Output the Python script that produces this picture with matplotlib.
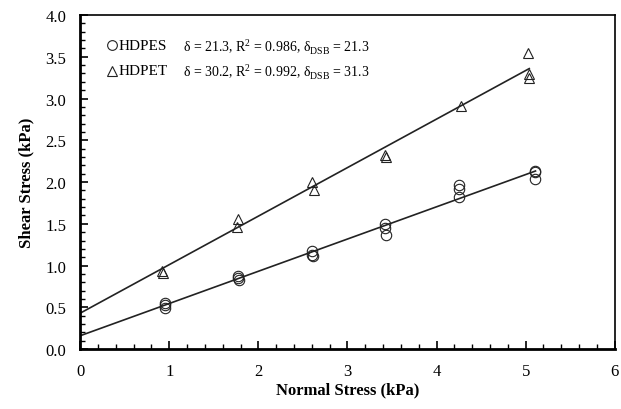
import numpy as np
import matplotlib.pyplot as plt
from matplotlib.ticker import MultipleLocator

plt.rcParams['font.family'] = 'Liberation Serif'
plt.rcParams['mathtext.fontset'] = 'custom'
plt.rcParams['mathtext.rm'] = 'Liberation Serif'

# HDPES (circles)
es_x = [0.95, 0.95, 0.95, 1.77, 1.77, 1.78, 2.60, 2.60, 2.61, 3.42, 3.42, 3.43, 4.25, 4.25, 4.25, 5.10, 5.10, 5.11]
es_y = [0.55, 0.53, 0.49, 0.88, 0.85, 0.83, 1.18, 1.13, 1.12, 1.50, 1.45, 1.37, 1.97, 1.92, 1.82, 2.13, 2.12, 2.04]
# HDPET (triangles)
et_x = [0.92, 0.93, 1.77, 1.76, 2.60, 2.62, 3.42, 3.43, 4.27, 5.03, 5.04, 5.04]
et_y = [0.93, 0.91, 1.56, 1.46, 2.00, 1.91, 2.32, 2.30, 2.91, 3.54, 3.29, 3.25]

# fitted lines (intercept, slope)
es_fit = (0.16, 0.386)
et_fit = (0.43, 0.581)

fig = plt.figure(figsize=(6.21, 4.10), dpi=100)
ax = fig.add_axes([0.129, 0.146, 0.861, 0.815])

for xs, ys, fit, m in [(es_x, es_y, es_fit, 'o'), (et_x, et_y, et_fit, '^')]:
    ax.plot(xs, ys, m, ms=7.5, mfc='none', mec='#222222', mew=0.8)
    xl = np.array([0, max(xs)])
    ax.plot(xl, fit[0] + fit[1] * xl, color='#222222', lw=1.2)

# in-plot legend
ax.plot([0.36], [3.64], 'o', ms=7, mfc='none', mec='#222222', mew=0.8)
ax.plot([0.36], [3.33], '^', ms=7, mfc='none', mec='#222222', mew=0.8)
ax.text(0.43, 3.64, 'HDPES', fontsize=11, va='center')
ax.text(1.15, 3.64, r'δ = 21.3, R$^2$ = 0.986, δ$_{\rm DSB}$ = 21.3', fontsize=10, va='center')
ax.text(0.43, 3.33, 'HDPET', fontsize=11, va='center')
ax.text(1.15, 3.33, r'δ = 30.2, R$^2$ = 0.992, δ$_{\rm DSB}$ = 31.3', fontsize=10, va='center')

ax.set_xlim(0, 6)
ax.set_ylim(0, 4)
ax.xaxis.set_major_locator(MultipleLocator(1))
ax.xaxis.set_minor_locator(MultipleLocator(0.2))
ax.yaxis.set_major_locator(MultipleLocator(0.5))
ax.yaxis.set_minor_locator(MultipleLocator(0.1))
ax.yaxis.set_major_formatter(plt.FormatStrFormatter('%.1f'))
ax.tick_params(which='both', direction='in', top=False, right=False, labelsize=12)
ax.tick_params(which='major', length=6, width=1.2)
ax.tick_params(which='minor', length=3.5, width=1.0)
ax.tick_params(axis='x', pad=10)
ax.tick_params(axis='y', pad=10)
ax.spines['left'].set_linewidth(2)
ax.spines['bottom'].set_linewidth(2)
ax.spines['top'].set_linewidth(1.2)
ax.spines['right'].set_linewidth(1.2)

ax.set_xlabel('Normal Stress (kPa)', fontsize=12, fontweight='bold', labelpad=2)
ax.set_ylabel('Shear Stress (kPa)', fontsize=12, fontweight='bold', labelpad=8)

fig.savefig('out.png', dpi=100)
